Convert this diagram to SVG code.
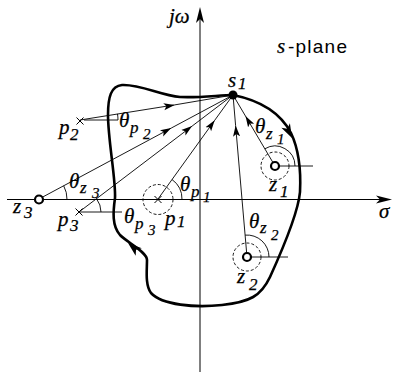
<svg xmlns="http://www.w3.org/2000/svg" width="394" height="372" viewBox="0 0 394 372">
<style>
.ax{stroke:#000;stroke-width:1;fill:none}
.ray{stroke:#000;stroke-width:0.9;fill:none}
.arc{stroke:#000;stroke-width:0.9;fill:none}
.dash{stroke:#000;stroke-width:0.9;fill:none;stroke-dasharray:3 2}
.zero{fill:#fff;stroke:#000;stroke-width:2.2}
.pole{stroke:#000;stroke-width:1;fill:none}
.contour{stroke:#000;stroke-width:2.6;fill:none;stroke-linejoin:round}
.m{font-family:"Liberation Serif","DejaVu Serif",serif;font-style:italic;font-size:21px;fill:#000;stroke:#000;stroke-width:0.25}
.s{font-size:17px}
.ss{font-size:15px}
.sans{font-family:"Liberation Sans",Arial,sans-serif;font-style:normal;font-size:19px;fill:#000}
</style>
<defs>
<marker id="ra" markerWidth="12" markerHeight="8" refX="11" refY="4" orient="auto" markerUnits="userSpaceOnUse"><path d="M11,4 L0,0.5 L2.5,4 L0,7.5 Z" fill="#000"/></marker>
<path id="ah" d="M0,0 L-14,-4.8 L-10.5,0 L-14,4.8 Z" fill="#000"/>
<path id="axh" d="M0,0 L-16,-4 L-12,0 L-16,4 Z" fill="#000"/>
</defs>

<g id="axes">
<line class="ax" x1="200" y1="12" x2="200" y2="372"/>
<use href="#axh" transform="translate(200,7) rotate(-90)"/>
<line class="ax" x1="7" y1="199.5" x2="386" y2="199.5"/>
<use href="#axh" transform="translate(392,199.5)"/>
<text class="m" x="169" y="23">jω</text>
<text class="m" x="379" y="218">σ</text>
<text class="m" x="277" y="53">s</text>
<text class="sans" x="288" y="53" textLength="59" lengthAdjust="spacing">-plane</text>
</g>

<g id="contour">
<path class="contour" d="M233,95 C258,100 280,112 291,133 C299,150 301,172 300,192 C298,215 280,255 270,277 C261,296 250,302 222,305 C195,308 162,305 151,293 C145,285 147,270 147,260 C147,252 128,243 120,235 C112,226 113,212 115,198 C116,180 108,140 108,115 C108,97 111,86 122,85 C140,84 160,95 180,97 C200,98 220,95 233,95 Z"/>
<use href="#ah" transform="translate(292,138) rotate(63)"/>
<use href="#ah" transform="translate(128,243) rotate(-140)"/>
</g>

<g id="connectors">
<polyline class="ray" points="80,120 174.7,104.9 233,95" marker-mid="url(#ra)"/>
<polyline class="ray" points="39,199 171.2,128.1 233,95" marker-mid="url(#ra)"/>
<polyline class="ray" points="79,212 192.1,126.1 233,95" marker-mid="url(#ra)"/>
<polyline class="ray" points="158,199 214.7,120.3 233,95" marker-mid="url(#ra)"/>
<polyline class="ray" points="247,257 235.6,125.5 233,95" marker-mid="url(#ra)"/>
<polyline class="ray" points="275,166 245.5,116.1 233,95" marker-mid="url(#ra)"/>
</g>

<g id="p2">
<path class="pole" d="M76.5,117.5 L83.5,124.5 M76.5,124.5 L83.5,117.5"/>
<line class="ray" x1="84" y1="120" x2="118" y2="120"/>
<path class="arc" d="M118,120 A38,38 0 0 0 117.5,113.9"/>
<text class="m" x="59" y="134">p<tspan class="s" x="70" y="140">2</tspan></text>
<text class="m" x="119" y="127">θ<tspan class="s" x="130" y="133">p</tspan><tspan class="ss" x="143" y="139">2</tspan></text>
</g>

<g id="p3">
<path class="pole" d="M75.5,208.5 L82.5,215.5 M75.5,215.5 L82.5,208.5"/>
<line class="ray" x1="79" y1="212" x2="122" y2="212"/>
<path class="arc" d="M101,212 A22,22 0 0 0 96.5,198.7"/>
<text class="m" x="58" y="226">p<tspan class="s" x="70" y="231">3</tspan></text>
<text class="m" x="124" y="223">θ<tspan class="s" x="135" y="229">p</tspan><tspan class="ss" x="148" y="235">3</tspan></text>
</g>

<g id="z3">
<path class="arc" d="M67,199.5 A28,28 0 0 0 63.7,185.8"/>
<circle class="zero" cx="39" cy="199.5" r="4"/>
<text class="m" x="13" y="213">z<tspan class="s" x="24" y="218">3</tspan></text>
<text class="m" x="69" y="188">θ<tspan class="s" x="80" y="193">z</tspan><tspan class="ss" x="92" y="198">3</tspan></text>
</g>

<g id="p1">
<circle class="dash" cx="158" cy="199.5" r="15"/>
<path class="pole" d="M154.5,196 L161.5,203 M154.5,203 L161.5,196"/>
<path class="arc" d="M182,199.5 A24,24 0 0 0 172,179.5"/>
<text class="m" x="165" y="225">p<tspan class="s" x="177" y="227">1</tspan></text>
<text class="m" x="180" y="191">θ<tspan class="s" x="191" y="197">p</tspan><tspan class="ss" x="203" y="202">1</tspan></text>
</g>

<g id="z1">
<circle class="dash" cx="275" cy="166" r="14"/>
<line class="ray" x1="275" y1="166" x2="313" y2="166"/>
<path class="arc" d="M295,166 A20,20 0 0 0 264.8,148.8"/>
<circle class="zero" cx="275" cy="166" r="4"/>
<text class="m" x="269" y="191">z<tspan class="s" x="280" y="197">1</tspan></text>
<text class="m" x="255" y="133">θ<tspan class="s" x="266" y="139">z</tspan><tspan class="ss" x="277" y="144">1</tspan></text>
</g>

<g id="z2">
<circle class="dash" cx="247" cy="257" r="14"/>
<line class="ray" x1="247" y1="257" x2="288" y2="257"/>
<path class="arc" d="M269,257 A22,22 0 0 0 245.1,235.1"/>
<circle class="zero" cx="247" cy="257" r="4"/>
<text class="m" x="237" y="283">z<tspan class="s" x="249" y="290">2</tspan></text>
<text class="m" x="249" y="228">θ<tspan class="s" x="260" y="233">z</tspan><tspan class="ss" x="271" y="240">2</tspan></text>
</g>

<g id="s1">
<circle cx="233" cy="95" r="4.5" fill="#000"/>
<text class="m" x="228" y="87">s<tspan class="s" x="238" y="89">1</tspan></text>
</g>
</svg>
